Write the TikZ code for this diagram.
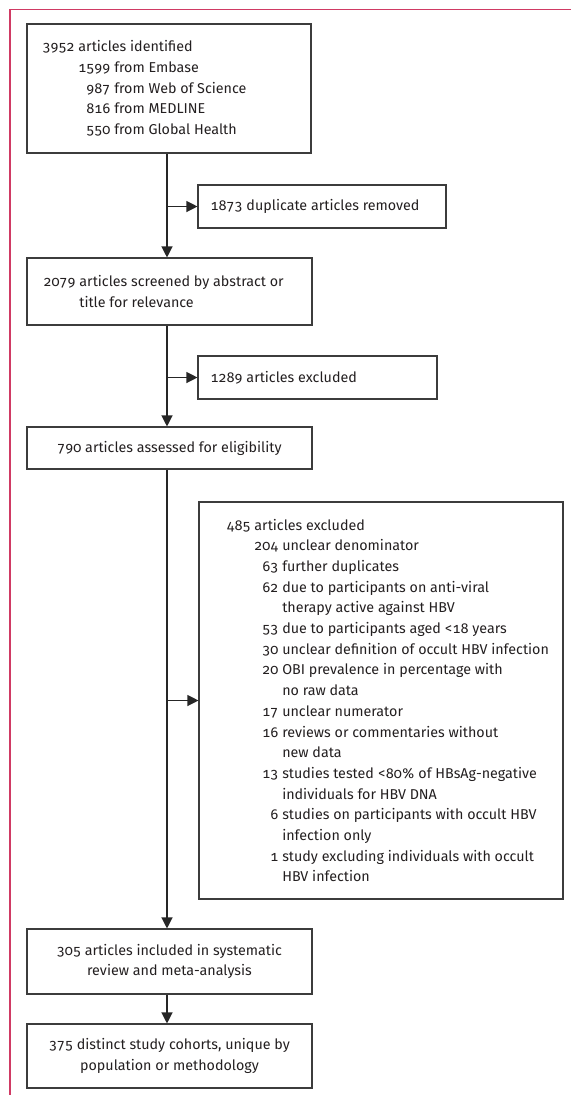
\documentclass[tikz,border=0pt]{standalone}
\usepackage{fontspec}
\setmainfont[Numbers={OldStyle,Monospaced}]{Fira Sans}
\usetikzlibrary{arrows.meta}
\definecolor{pinkline}{RGB}{208,58,100}
\definecolor{boxline}{RGB}{60,60,60}
\definecolor{txtc}{RGB}{35,31,32}
\newcommand\fs{\fontsize{14.3bp}{20.7bp}\selectfont}
\newcommand\ifour{\hphantom{3952\ }}
\newcommand\ithr{\hphantom{485\ }}
\tikzset{
  box/.style={draw=boxline, line width=1.1bp, rectangle, inner sep=0pt},
  txt/.style={font=\fs, text=txtc, align=left, inner sep=0pt},
  ctxt/.style={font=\fs, text=txtc, align=center},
  flow/.style={draw=black!85, line width=1.2bp, -{Triangle[length=11bp,width=11bp]}},
  frame/.style={draw=pinkline, line width=1.2bp}
}
\begin{document}
\begin{tikzpicture}[x=1bp,y=-1bp]
\useasboundingbox (0,0) rectangle (571,1095);
% frame
\coordinate (fa) at (571,9.5);
\coordinate (fb) at (10,9.5);
\coordinate (fc) at (10,1095);
\draw[frame] (fa) -- (fb) -- (fc);
\coordinate (trunk) at (167,0);
% boxes
\node[box, minimum width=284bp, minimum height=129bp] (b1) at (169,88.5) {};
\node[txt, anchor=west] (b1t) at ([xshift=16bp]b1.west) {3952 articles identified\\
\ifour 1599 from Embase\\
\ifour\hphantom{0}987 from Web of Science\\
\ifour\hphantom{0}816 from MEDLINE\\
\ifour\hphantom{0}550 from Global Health};

\node[box, minimum width=248bp, minimum height=43bp] (dup) at (322,206.5) {};
\node[txt, anchor=west] (dupt) at ([xshift=13bp]dup.west) {1873 duplicate articles removed};

\node[box, minimum width=285bp, minimum height=67bp] (b2) at (169.5,291.5) {};
\node[txt, anchor=west] (b2t) at ([xshift=17bp]b2.west) {2079 articles screened by abstract or\\
\ifour title for relevance};

\node[box, minimum width=239bp, minimum height=43bp] (ex1) at (317.5,377.5) {};
\node[txt, anchor=west] (ex1t) at ([xshift=13bp]ex1.west) {1289 articles excluded};

\node[box, ctxt, minimum width=285bp, minimum height=42bp] (b3) at (169.5,448) {790 articles assessed for eligibility};

\node[box, minimum width=364bp, minimum height=397bp] (ex2) at (381,700.5) {};
\node[txt, anchor=west] (ex2t) at ([xshift=28bp]ex2.west) {485 articles excluded\\
\ithr 204 unclear denominator\\
\ithr\hphantom{0}63 further duplicates\\
\ithr\hphantom{0}62 due to participants on anti-viral\\
\ithr\hphantom{000\ }therapy active against HBV\\
\ithr\hphantom{0}53 due to participants aged <18 years\\
\ithr\hphantom{0}30 unclear definition of occult HBV infection\\
\ithr\hphantom{0}20 OBI prevalence in percentage with\\
\ithr\hphantom{000\ }no raw data\\
\ithr\hphantom{0}17 unclear numerator\\
\ithr\hphantom{0}16 reviews or commentaries without\\
\ithr\hphantom{000\ }new data\\
\ithr\hphantom{0}13 studies tested <80\% of HBsAg-negative\\
\ithr\hphantom{000\ }individuals for HBV DNA\\
\ithr\hphantom{00}6 studies on participants with occult HBV\\
\ithr\hphantom{000\ }infection only\\
\ithr\hphantom{00}1 study excluding individuals with occult\\
\ithr\hphantom{000\ }HBV infection};

\node[box, ctxt, minimum width=285bp, minimum height=65bp] (b4) at (169.5,961.5) {305 articles included in systematic\\review and meta-analysis};
\node[box, ctxt, minimum width=285bp, minimum height=64bp] (b5) at (169.5,1056) {375 distinct study cohorts, unique by\\population or methodology};

% connectors
\draw[flow] (b1.south -| trunk) -- (b2.north -| trunk);
\draw[flow] (dup.west -| trunk) -- (dup.west);
\draw[flow] (b2.south -| trunk) -- (b3.north -| trunk);
\draw[flow] (ex1.west -| trunk) -- (ex1.west);
\draw[flow] (b3.south -| trunk) -- (b4.north -| trunk);
\draw[flow] (ex2.west -| trunk) -- (ex2.west);
\draw[flow] (b4.south -| trunk) -- (b5.north -| trunk);
\end{tikzpicture}
\end{document}
